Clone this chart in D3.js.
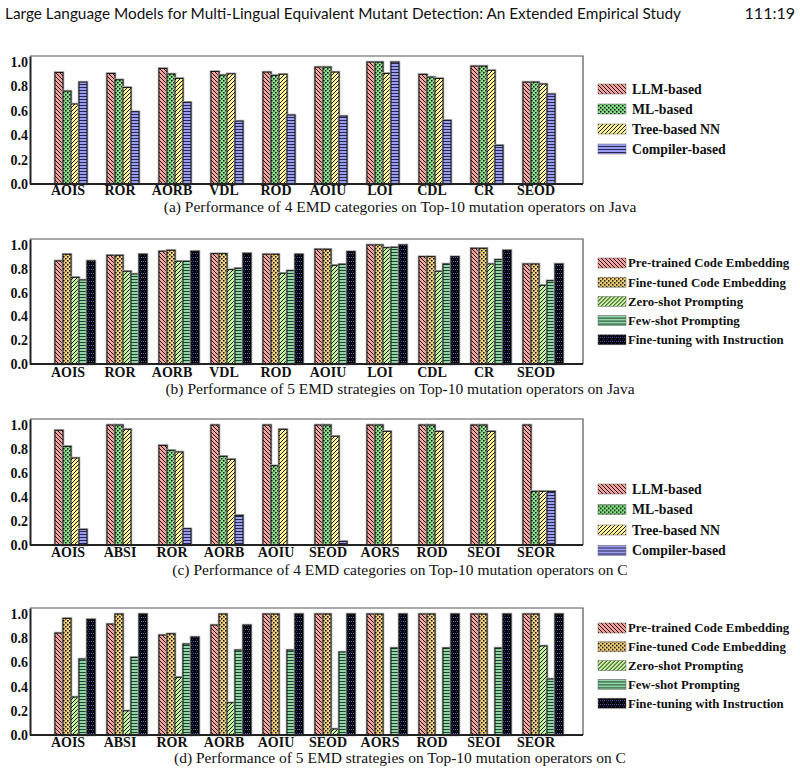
<!DOCTYPE html>
<html>
<head>
<meta charset="utf-8">
<script src="https://cdn.jsdelivr.net/npm/d3@7"></script>
<style>
  body { margin: 0; background: #fff; }
  svg { display: block; }
</style>
</head>
<body>
<svg width="800" height="774"></svg>
<script>
// operators (x categories)
const opsJava = ["AOIS", "ROR", "AORB", "VDL", "ROD", "AOIU", "LOI", "CDL", "CR", "SEOD"];
const opsC = ["AOIS", "ABSI", "ROR", "AORB", "AOIU", "SEOD", "AORS", "ROD", "SEOI", "SEOR"];

const categories = ["LLM-based", "ML-based", "Tree-based NN", "Compiler-based"];
const strategies = ["Pre-trained Code Embedding", "Fine-tuned Code Embedding", "Zero-shot Prompting", "Few-shot Prompting", "Fine-tuning with Instruction"];

const yTicks = [0, 0.2, 0.4, 0.6, 0.8, 1.0];

// (a) java, categories
const javaLLM  = [0.915, 0.907, 0.948, 0.923, 0.918, 0.959, 1.0, 0.899, 0.967, 0.836];
const javaML   = [0.762, 0.855, 0.902, 0.893, 0.891, 0.959, 1.0, 0.877, 0.967, 0.836];
const javaTree = [0.656, 0.792, 0.866, 0.904, 0.900, 0.918, 0.907, 0.866, 0.932, 0.820];
const javaComp = [0.836, 0.593, 0.670, 0.516, 0.566, 0.557, 1.0, 0.522, 0.317, 0.738];

// (b) java, strategies
const javaPre  = [0.866, 0.913, 0.947, 0.927, 0.922, 0.964, 1.0, 0.902, 0.972, 0.840];
const javaFT   = [0.922, 0.913, 0.955, 0.927, 0.922, 0.964, 1.0, 0.902, 0.972, 0.840];
const javaZero = [0.728, 0.779, 0.863, 0.793, 0.762, 0.829, 0.977, 0.779, 0.840, 0.661];
const javaFew  = [0.706, 0.756, 0.863, 0.804, 0.784, 0.838, 0.980, 0.840, 0.877, 0.700];
const javaFTI  = [0.866, 0.922, 0.947, 0.930, 0.922, 0.944, 1.0, 0.902, 0.955, 0.840];

// (c) C, categories
const cLLM  = [0.956, 1.0, 0.830, 1.0, 1.0, 1.0, 1.0, 1.0, 1.0, 1.0];
const cML   = [0.822, 1.0, 0.789, 0.739, 0.661, 1.0, 1.0, 1.0, 1.0, 0.447];
const cTree = [0.725, 0.964, 0.775, 0.714, 0.964, 0.906, 0.947, 0.947, 0.947, 0.447];
const cComp = [0.130, 0, 0.136, 0.247, 0, 0.030, 0, 0, 0, 0.447];

// (d) C, strategies
const cPre  = [0.843, 0.917, 0.826, 0.909, 1.0, 1.0, 1.0, 1.0, 1.0, 1.0];
const cFT   = [0.964, 1.0, 0.837, 1.0, 1.0, 1.0, 1.0, 1.0, 1.0, 1.0];
const cZero = [0.314, 0.200, 0.477, 0.267, 0, 0.050, 0, 0, 0, 0.736];
const cFew  = [0.628, 0.642, 0.752, 0.702, 0.702, 0.686, 0.719, 0.719, 0.719, 0.463];
const cFTI  = [0.956, 1.0, 0.810, 0.909, 1.0, 1.0, 1.0, 1.0, 1.0, 1.0];

const captions = [
  "(a) Performance of 4 EMD categories on Top-10 mutation operators on Java",
  "(b) Performance of 5 EMD strategies on Top-10 mutation operators on Java",
  "(c) Performance of 4 EMD categories on Top-10 mutation operators on C",
  "(d) Performance of 5 EMD strategies on Top-10 mutation operators on C"
];

const svg = d3.select("svg");
const serif = "'Liberation Serif', 'Times New Roman', serif";

// header line
svg.append("text")
  .attr("x", 5).attr("y", 19)
  .attr("textLength", 676).attr("lengthAdjust", "spacingAndGlyphs")
  .style("font-family", "Lato, sans-serif").style("font-size", "16px").style("fill", "#111")
  .text("Large Language Models for Multi-Lingual Equivalent Mutant Detection: An Extended Empirical Study");
svg.append("text")
  .attr("x", 795).attr("y", 19).attr("text-anchor", "end")
  .style("font-family", "Lato, sans-serif").style("font-size", "16px").style("fill", "#111")
  .text("111:19");

// patterns
const defs = svg.append("defs");
function pat(id, size, bg, draw) {
  const p = defs.append("pattern").attr("id", id)
    .attr("patternUnits", "userSpaceOnUse")
    .attr("width", size).attr("height", size);
  p.append("rect").attr("width", size).attr("height", size).attr("fill", bg);
  draw(p);
}
const backDiag = p => p.append("path").attr("d", "M-1,-1L5,5M-1,3L1,5M3,-1L5,1").attr("stroke", "#000").attr("stroke-width", 0.9);
const fwdDiag = p => p.append("path").attr("d", "M-1,5L5,-1M-1,1L1,-1M3,5L5,3").attr("stroke", "#000").attr("stroke-width", 0.9);
const checker = p => {
  p.append("rect").attr("x", 0).attr("y", 0).attr("width", 1.5).attr("height", 1.5).attr("fill", "#000");
  p.append("rect").attr("x", 2).attr("y", 2).attr("width", 1.5).attr("height", 1.5).attr("fill", "#000");
};

pat("pLLM", 4, "#f6a39d", backDiag);
pat("pML", 4, "#86e486", checker);
pat("pTree", 4, "#fff598", fwdDiag);
pat("pComp", 6, "#9c9ef2", p => {
  p.append("path").attr("d", "M0,0.5H6M0,3.5H6").attr("stroke", "#1a1a40").attr("stroke-width", 0.9);
});
pat("pPre", 4, "#f6a39d", backDiag);
pat("pFT", 4, "#f3d27a", checker);
pat("pZero", 4, "#c4f59c", fwdDiag);
pat("pFew", 6, "#92d6a6", p => {
  p.append("path").attr("d", "M0,0.5H6M0,3.5H6").attr("stroke", "#113322").attr("stroke-width", 0.9);
});
pat("pFTI", 4, "#000", p => {
  p.append("rect").attr("x", 0).attr("y", 1).attr("width", 1).attr("height", 1).attr("fill", "#5a68c8");
  p.append("rect").attr("x", 2).attr("y", 1).attr("width", 1).attr("height", 1).attr("fill", "#5a68c8");
  p.append("rect").attr("x", 1).attr("y", 3).attr("width", 1).attr("height", 1).attr("fill", "#2c3470");
});

const catFills = ["url(#pLLM)", "url(#pML)", "url(#pTree)", "url(#pComp)"];
const strFills = ["url(#pPre)", "url(#pFT)", "url(#pZero)", "url(#pFew)", "url(#pFTI)"];

const panels = [
  { ops: opsJava, names: categories, fills: catFills, series: [javaLLM, javaML, javaTree, javaComp],
    top: 56, bottom: 184, labelY: 195, capY: 212, legY: 89, legStep: 20, legFont: 13.8, legX: 34 },
  { ops: opsJava, names: strategies, fills: strFills, series: [javaPre, javaFT, javaZero, javaFew, javaFTI],
    top: 239, bottom: 364, labelY: 377, capY: 394, legY: 263, legStep: 19.2, legFont: 12.8, legX: 30 },
  { ops: opsC, names: categories, fills: catFills, series: [cLLM, cML, cTree, cComp],
    top: 419, bottom: 545, labelY: 557, capY: 575, legY: 489, legStep: 20.5, legFont: 13.8, legX: 34 },
  { ops: opsC, names: strategies, fills: strFills, series: [cPre, cFT, cZero, cFew, cFTI],
    top: 608, bottom: 735, labelY: 747, capY: 763, legY: 628, legStep: 18.8, legFont: 12.8, legX: 30 }
];

const left = 30, right = 583, barW = 8;

panels.forEach((pn, k) => {
  const g = svg.append("g");

  const x0 = d3.scaleBand().domain(pn.ops).range([42, 562]);
  const x1 = d3.scaleBand().domain(pn.names).range([0, pn.names.length * barW]);
  const y = d3.scaleLinear().domain([0, 1.05]).range([pn.bottom, pn.top]);

  // frame (top + right)
  g.append("path")
    .attr("d", `M${left},${pn.top}H${right}V${pn.bottom}`)
    .attr("fill", "none").attr("stroke", "#555").attr("stroke-width", 1.2);

  // bars
  const rows = pn.ops.map((op, i) => ({ op, vals: pn.series.map((s, j) => ({ name: pn.names[j], j, v: s[i] })) }));
  const grp = g.selectAll("g.op").data(rows).join("g")
    .attr("transform", d => `translate(${x0(d.op) + 13},0)`);
  const bars = grp.selectAll("g.bar").data(d => d.vals.filter(v => v.v > 0)).join("g");
  bars.append("rect")
    .attr("x", d => x1(d.name)).attr("y", d => y(d.v))
    .attr("width", barW).attr("height", d => y(0) - y(d.v))
    .attr("fill", "none").attr("stroke", "#aaa").attr("stroke-width", 2.6);
  bars.append("rect")
    .attr("x", d => x1(d.name)).attr("y", d => y(d.v))
    .attr("width", barW).attr("height", d => y(0) - y(d.v))
    .attr("fill", d => pn.fills[d.j]).attr("stroke", "#111").attr("stroke-width", 1);

  // y axis
  const ya = g.append("g").attr("transform", `translate(${left},0)`)
    .call(d3.axisLeft(y).tickValues(yTicks).tickFormat(d3.format(".1f")).tickSize(0).tickPadding(2));
  ya.select(".domain").attr("stroke", "#222").attr("stroke-width", 2);
  ya.selectAll("text").style("font-family", serif).style("font-size", "14px").style("font-weight", "bold").attr("fill", "#111");

  // x axis
  const xa = g.append("g").attr("transform", `translate(0,${pn.bottom})`)
    .call(d3.axisBottom(x0).tickSize(0).tickSizeOuter(0));
  xa.select(".domain").attr("d", `M${left},0H${right}`).attr("stroke", "#222").attr("stroke-width", 2);
  xa.selectAll("text")
    .attr("y", pn.labelY - pn.bottom).attr("dy", null)
    .style("font-family", serif).style("font-size", "14px").style("font-weight", "bold").attr("fill", "#111");

  // legend
  const lg = g.selectAll("g.leg").data(pn.names).join("g")
    .attr("transform", (d, i) => `translate(598,${pn.legY + i * pn.legStep})`);
  lg.append("rect").attr("x", 0).attr("y", -5).attr("width", 28).attr("height", 10)
    .attr("fill", (d, i) => pn.fills[i]).attr("stroke", "#666").attr("stroke-width", 0.5);
  lg.append("text").attr("x", pn.legX).attr("y", 0).attr("dy", "0.35em")
    .style("font-family", serif).style("font-size", pn.legFont + "px").style("font-weight", "bold").attr("fill", "#111")
    .text(d => d);

  // caption
  svg.append("text")
    .attr("x", 400).attr("y", pn.capY).attr("text-anchor", "middle")
    .style("font-family", serif).style("font-size", "15.5px").attr("fill", "#111")
    .text(captions[k]);
});
</script>
</body>
</html>
